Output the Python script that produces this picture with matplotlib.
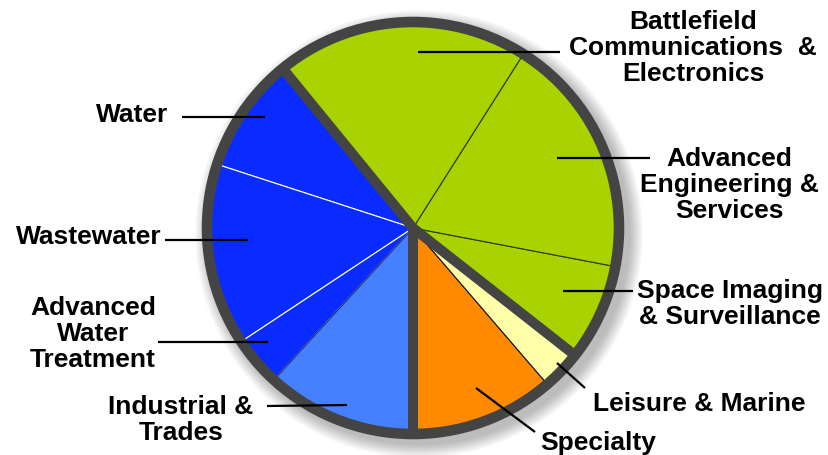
import numpy as np
import matplotlib
matplotlib.use("Agg")
import matplotlib.pyplot as plt
from matplotlib.patches import Circle

# ------------------------------------------------------------------
# DATA (share of the pie, percent), counter-clockwise from 6 o'clock
# ------------------------------------------------------------------
SEGMENTS = ["Specialty", "Leisure & Marine", "Space Imaging\n& Surveillance",
            "Advanced\nEngineering &\nServices",
            "Battlefield\nCommunications  &\nElectronics",
            "Water", "Wastewater", "Advanced\nWater\nTreatment",
            "Industrial &\nTrades"]
SHARES = [11.3, 3.1, 7.6, 19.0, 19.9, 9.1, 14.3, 3.9, 11.8]
# groups are separated by thick dividers: index where each group starts
GROUP_STARTS = [0, 2, 5]

# ------------------------------------------------------------------
# STYLE / LAYOUT (pixel coords, y measured from top)
# ------------------------------------------------------------------
GREEN, BLUE, LBLUE = "#a8d300", "#0a2bff", "#4480ff"
ORANGE, YELLOW, RING = "#ff8a00", "#ffffaa", "#444444"
COLORS = [ORANGE, YELLOW, GREEN, GREEN, GREEN, BLUE, BLUE, BLUE, LBLUE]
EDGES = ["#222222", "#111111", "#2c3a00", "#2c3a00", "#2c3a00",
         "white", "white", "white", "#1a2a60"]

W, H = 829, 455
CX, CY, R = 413, 228, 206

LABEL_POS = [(540, 443, "left"), (593, 404, "left"), (730, 304, "center"),
             (729, 185, "center"), (693, 48, "center"),
             (168, 115, "right"), (162, 237, "right"), (93, 334, "center"),
             (181, 420, "center")]
LEADERS = [((476, 388), (535, 432)), ((557, 363), (585, 388)),
           ((563, 291), (633, 291)), ((557, 158), (650, 158)),
           ((418, 52), (560, 52)), ((182, 117), (265, 117)),
           ((165, 240), (248, 240)), ((158, 342), (268, 342)),
           ((267, 406), (347, 405))]

fig = plt.figure(figsize=(W / 100, H / 100), dpi=100)
ax = fig.add_axes([0, 0, 1, 1])


def fy(y):
    return H - y


# soft shadow down-right of the disc
for i in range(14):
    ax.add_patch(Circle((CX + 6, fy(CY) - 6), R + 5 + i, color="#000000",
                        alpha=0.018, lw=0, zorder=0))
ax.add_patch(Circle((CX, fy(CY)), R + 5, color="white", lw=0, zorder=0.5))

wedges, _ = ax.pie(SHARES, colors=COLORS, startangle=-90, counterclock=True,
                   center=(CX, fy(CY)), radius=R, frame=True,
                   wedgeprops=dict(linewidth=0.8))
for w, ec in zip(wedges, EDGES):
    w.set_edgecolor(ec)
    w.set_zorder(1)
ax.set_xlim(0, W)
ax.set_ylim(0, H)
ax.set_aspect("equal")
ax.axis("off")

# thick group dividers
cum = np.concatenate([[0], np.cumsum(SHARES)]) / sum(SHARES) * 360 - 90
for gi in GROUP_STARTS:
    a = np.deg2rad(cum[gi])
    ax.plot([CX, CX + R * np.cos(a)], [fy(CY), fy(CY) + R * np.sin(a)],
            color=RING, lw=7.2, solid_capstyle="butt", zorder=2)

# outer ring
ax.add_patch(Circle((CX, fy(CY)), R, fill=False, ec=RING, lw=7.6, zorder=3))

# leader lines and labels
for (p0, p1) in LEADERS:
    ax.plot([p0[0], p1[0]], [fy(p0[1]), fy(p1[1])], color="black", lw=1.6,
            solid_capstyle="butt", zorder=4)
for name, (x, y, ha) in zip(SEGMENTS, LABEL_POS):
    ax.text(x, fy(y), name, ha=ha, va="center", multialignment="center",
            fontsize=19.0, fontweight="bold", family="Liberation Sans",
            linespacing=1.1, zorder=5)

fig.savefig("out.png", dpi=100)
